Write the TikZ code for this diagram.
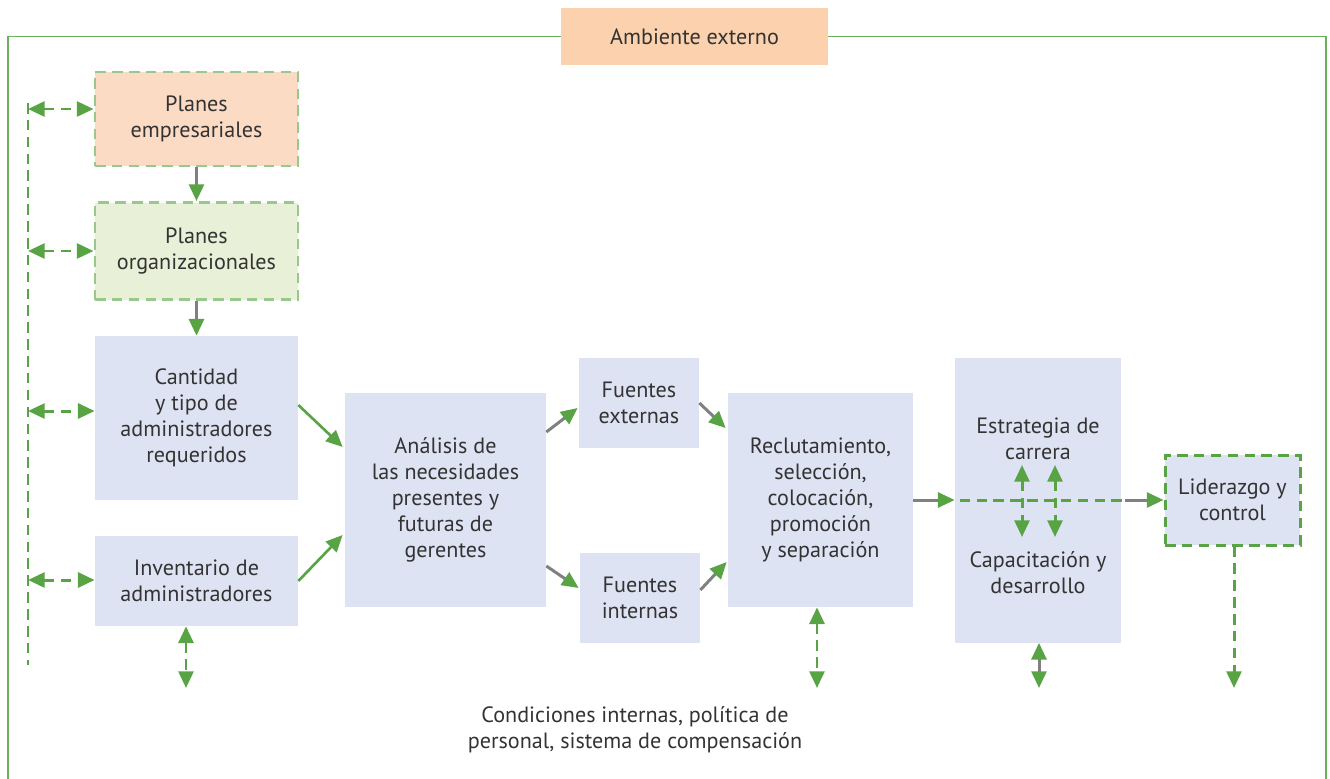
\documentclass[tikz,border=0pt]{standalone}
\usepackage{fontspec}
\setmainfont{PT Sans}
\usepackage{xcolor}
\usepackage{tikz}
\usetikzlibrary{arrows.meta,positioning,calc}
\definecolor{framegreen}{HTML}{6BB05B}
\definecolor{arrowgreen}{HTML}{58A444}
\definecolor{dashgreen}{HTML}{96C98A}
\definecolor{peach}{HTML}{FBD1AE}
\definecolor{softpeach}{HTML}{FCDBC4}
\definecolor{softgreen}{HTML}{E9F0D8}
\definecolor{lavender}{HTML}{DEE3F3}
\definecolor{linegray}{HTML}{808080}
\definecolor{textgray}{HTML}{333333}
\tikzset{
  block/.style={fill=lavender, align=center, inner sep=4pt, text=textgray, execute at begin node={\rule{0pt}{14.5pt}}},
  titlebox/.style={fill=peach, align=center, inner sep=4pt, text=textgray},
  planbox/.style={block, draw=dashgreen, line width=1.7pt, dash pattern=on 6pt off 3.6pt},
  leadbox/.style={block, draw=arrowgreen, line width=1.7pt, dash pattern=on 6pt off 3.6pt},
  caption/.style={align=center, inner sep=2pt, text=textgray},
  frame/.style={draw=framegreen, line width=1.1pt},
  arrow/.style={-{Triangle[length=9.5pt, width=8.5pt, color=arrowgreen]}, line width=1.7pt, draw=linegray},
  grayboth/.style={{Triangle[length=9.5pt, width=8.5pt, color=arrowgreen]}-{Triangle[length=9.5pt, width=8.5pt, color=arrowgreen]}, line width=1.7pt, draw=linegray},
  greenarrow/.style={-{Triangle[length=9.5pt, width=8.5pt]}, line width=1.5pt, draw=arrowgreen, fill=arrowgreen},
  dashline/.style={line width=1.7pt, draw=arrowgreen, dash pattern=on 6pt off 3.6pt},
  dasharrow/.style={dashline, {Triangle[length=9.5pt, width=8.5pt]}-{Triangle[length=9.5pt, width=8.5pt]}},
  dashdown/.style={dashline, -{Triangle[length=9.5pt, width=8.5pt]}}
}

\begin{document}
\begin{tikzpicture}[font=\fontsize{12.6}{14.7}\selectfont]
  \useasboundingbox (0,0) rectangle (26.6,-15.58);

  \node[titlebox, minimum width=5.34cm, minimum height=1.14cm] (ambiente) at (13.89,-0.73) {Ambiente externo};
  \coordinate (frameleft) at (0.16,-15.58);
  \coordinate (frameright) at (26.52,-15.58);
  \draw[frame] (frameleft) |- (ambiente.west);
  \draw[frame] (ambiente.east) -| (frameright);

  \node[planbox, fill=softpeach, minimum width=4.06cm, minimum height=1.88cm] (empresa) at (3.93,-2.38) {Planes\\empresariales};
  \node[planbox, fill=softgreen, minimum width=4.06cm, minimum height=1.94cm] (organiza) at (3.93,-5.02) {Planes\\organizacionales};
  \node[block, minimum width=4.06cm, minimum height=3.28cm] (cantidad) at (3.93,-8.36) {Cantidad\\y tipo de\\administradores\\requeridos};
  \node[block, minimum width=4.06cm, minimum height=1.80cm] (inventario) at (3.93,-11.62) {Inventario de\\administradores};

  \node[block, minimum width=4.02cm, minimum height=4.28cm] (analisis) at (8.91,-10.0) {Análisis de\\las necesidades\\presentes y\\futuras de\\gerentes};
  \node[block, minimum width=2.40cm, minimum height=1.80cm] (externas) at (12.78,-8.06) {Fuentes\\externas};
  \node[block, minimum width=2.40cm, minimum height=1.80cm] (internas) at (12.80,-11.96) {Fuentes\\internas};
  \node[block, minimum width=3.70cm, minimum height=4.28cm] (reclut) at (16.41,-10.0) {Reclutamiento,\\selección,\\colocación,\\promoción\\y separación};

  \node[block, minimum width=3.32cm, minimum height=5.70cm] (carrera) at (20.76,-10.0) {};
  \node[caption] (estrategia) at (20.76,-8.78) {Estrategia de\\carrera};
  \node[caption] (capacita) at (20.76,-11.45) {Capacitación y\\desarrollo};
  \node[leadbox, minimum width=2.70cm, minimum height=1.80cm] (lider) at (24.65,-10.0) {Liderazgo y\\control};

  \node[caption] (condiciones) at (12.7,-14.6) {Condiciones internas, política de\\personal, sistema de compensación};

  % left side
  \coordinate (lefttop) at (0.56,-2.06);
  \coordinate (leftbot) at (0.56,-13.3);
  \draw[dashline] (lefttop) -- (leftbot);
  \foreach \blk/\dy in {empresa/0.2, organiza/0, cantidad/0.14, inventario/0.02} {
    \coordinate (b\blk) at ([yshift=\dy cm]\blk.west);
    \draw[dasharrow] (lefttop |- b\blk) -- (b\blk);
  }

  \draw[arrow] (empresa) -- (organiza);
  \draw[arrow] (organiza) -- (cantidad);
  \draw[greenarrow] ([yshift=0.26cm]cantidad.east) -- ([xshift=-0.04cm, yshift=1.06cm]analisis.west);
  \draw[greenarrow] (inventario.east) -- ([xshift=-0.04cm, yshift=-0.70cm]analisis.west);
  \draw[arrow] ([yshift=1.36cm]analisis.east) -- ([xshift=-0.02cm, yshift=-0.1cm]externas.west);
  \draw[arrow] ([yshift=-1.32cm]analisis.east) -- ([xshift=-0.02cm, yshift=0.2cm]internas.west);
  \draw[arrow] (externas.east) -- ([xshift=-0.04cm, yshift=1.44cm]reclut.west);
  \draw[arrow] ([yshift=0.16cm]internas.east) -- ([xshift=-0.02cm, yshift=-1.24cm]reclut.west);

  % through the career column
  \coordinate (crossend) at ([xshift=0.08cm]carrera.east);
  \draw[arrow] (reclut) -- (carrera);
  \draw[dashline] ([xshift=0.1cm]carrera.west) -- (crossend);
  \draw[arrow] (crossend) -- (lider);
  \coordinate (cvonetop) at (20.44,-9.30);
  \coordinate (cvonebot) at (20.44,-10.74);
  \coordinate (cvtwotop) at (21.10,-9.30);
  \coordinate (cvtwobot) at (21.10,-10.74);
  \draw[dasharrow] (cvonetop) -- (cvonebot);
  \draw[dasharrow] (cvtwotop) -- (cvtwobot);

  % bottom
  \coordinate (invend) at (3.72,-13.76);
  \coordinate (reclend) at (16.34,-13.76);
  \coordinate (carrend) at (20.78,-13.76);
  \coordinate (liderend) at (24.68,-13.76);
  \draw[dasharrow] (inventario.south -| invend) -- (invend);
  \draw[dasharrow] (reclut.south -| reclend) -- (reclend);
  \draw[grayboth] (carrera.south -| carrend) -- (carrend);
  \draw[dashdown] (lider.south -| liderend) -- (liderend);
\end{tikzpicture}
\end{document}
